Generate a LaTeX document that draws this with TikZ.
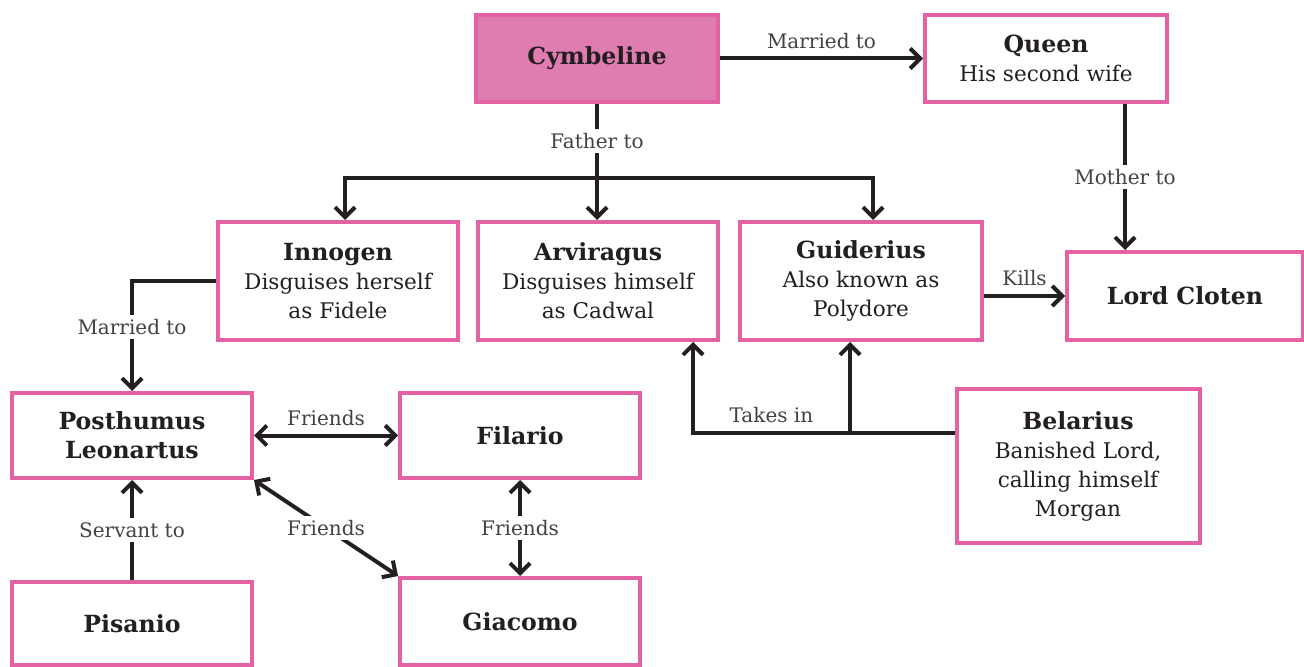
\documentclass[tikz,border=0pt]{standalone}
\usepackage{fontspec}
\setmainfont{DejaVu Serif}
\usetikzlibrary{arrows.meta}
\definecolor{rosefill}{RGB}{223,124,176}
\definecolor{roseline}{RGB}{228,98,164}
\definecolor{ink}{RGB}{35,31,32}
\tikzset{
 person/.style={draw=roseline,line width=2pt,fill=white,align=center,inner sep=0,text=ink,font=\fontsize{10.8}{14.5}\selectfont},
 link/.style={draw=ink,line width=2pt},
 arrowlink/.style={link,-{Straight Barb[length=5pt,width=10pt]}},
 twoway/.style={link,{Straight Barb[length=5pt,width=10pt]}-{Straight Barb[length=5pt,width=10pt]}},
 tag/.style={fill=white,inner sep=2pt,text=ink!85,font=\fontsize{10}{11}\selectfont},
 tagabove/.style={above=4pt,inner sep=0,text=ink!85,font=\fontsize{10}{11}\selectfont}
}
\newcommand\who[1]{{\fontsize{11.8}{14.5}\selectfont\bfseries #1}}

\begin{document}
\begin{tikzpicture}[x=.5pt,y=-.5pt]
\path[use as bounding box,fill=white] (0,0) rectangle (1304,667);
% the royal family
\node[person,fill=rosefill,minimum width=121pt,minimum height=43.5pt] (cymbeline) at (597,58.5) {\who{Cymbeline}};
\node[person,minimum width=121pt,minimum height=43.5pt] (queen) at (1046,58.5) {\who{Queen}\\His second wife};
\node[person,minimum width=120pt,minimum height=59pt] (innogen) at (338,281) {\who{Innogen}\\Disguises herself\\as Fidele};
\node[person,minimum width=120pt,minimum height=59pt] (arviragus) at (598,281) {\who{Arviragus}\\Disguises himself\\as Cadwal};
\node[person,minimum width=121pt,minimum height=59pt] (guiderius) at (861,281) {\who{Guiderius}\\Also known as\\Polydore};
\node[person,minimum width=118pt,minimum height=44pt] (cloten) at (1185,296) {\who{Lord Cloten}};
% the others
\node[person,minimum width=120pt,minimum height=42.5pt] (posthumus) at (132,435.5) {\who{Posthumus}\\\who{Leonartus}};
\node[person,minimum width=120pt,minimum height=42.5pt] (filario) at (520,435.5) {\who{Filario}};
\node[person,minimum width=120pt,minimum height=41.5pt] (pisanio) at (132,623.5) {\who{Pisanio}};
\node[person,minimum width=120pt,minimum height=43.5pt] (giacomo) at (520,621.5) {\who{Giacomo}};
\node[person,minimum width=121.5pt,minimum height=76.5pt] (belarius) at (1078,466) {\who{Belarius}\\Banished Lord,\\calling himself\\Morgan};

\draw[arrowlink] (cymbeline.east) -- node[tagabove]{Married to} (queen.west);
\coordinate (fork) at (cymbeline.south |- 0,178);
\draw[link] (cymbeline.south) -- node[tag]{Father to} (fork);
\draw[arrowlink] (fork) -- (fork |- arviragus.north);
\draw[arrowlink] (fork) -| ([xshift=3.5pt]innogen.north);
\draw[arrowlink] (fork) -| ([xshift=6pt]guiderius.north);

\coordinate (qm) at ([xshift=39.5pt]queen.south);
\draw[arrowlink] (qm) -- node[tag]{Mother to} (qm |- cloten.north);
\draw[arrowlink] (guiderius.east |- cloten.west) -- node[tagabove]{Kills} (cloten.west);

\draw[arrowlink] (innogen.west) -| node[tag,pos=.71]{Married to} (posthumus.north);
\draw[twoway] (posthumus.east) -- node[tagabove]{Friends} (filario.west);
\draw[twoway] (posthumus.south east) -- node[tag]{Friends} (giacomo.north west);
\draw[twoway] (filario.south) -- node[tag]{Friends} (giacomo.north);
\draw[arrowlink] (pisanio.north) -- node[tag]{Servant to} (posthumus.south);

% Belarius raises the two princes
\coordinate (bw) at ([yshift=16.5pt]belarius.west);
\coordinate (ta) at ([xshift=47.5pt]arviragus.south);
\coordinate (tg) at ([xshift=-5.5pt]guiderius.south);
\draw[arrowlink] (bw) -| node[tagabove,pos=.35]{Takes in} (ta);
\draw[arrowlink] (bw -| tg) -- (tg);
\end{tikzpicture}
\end{document}
